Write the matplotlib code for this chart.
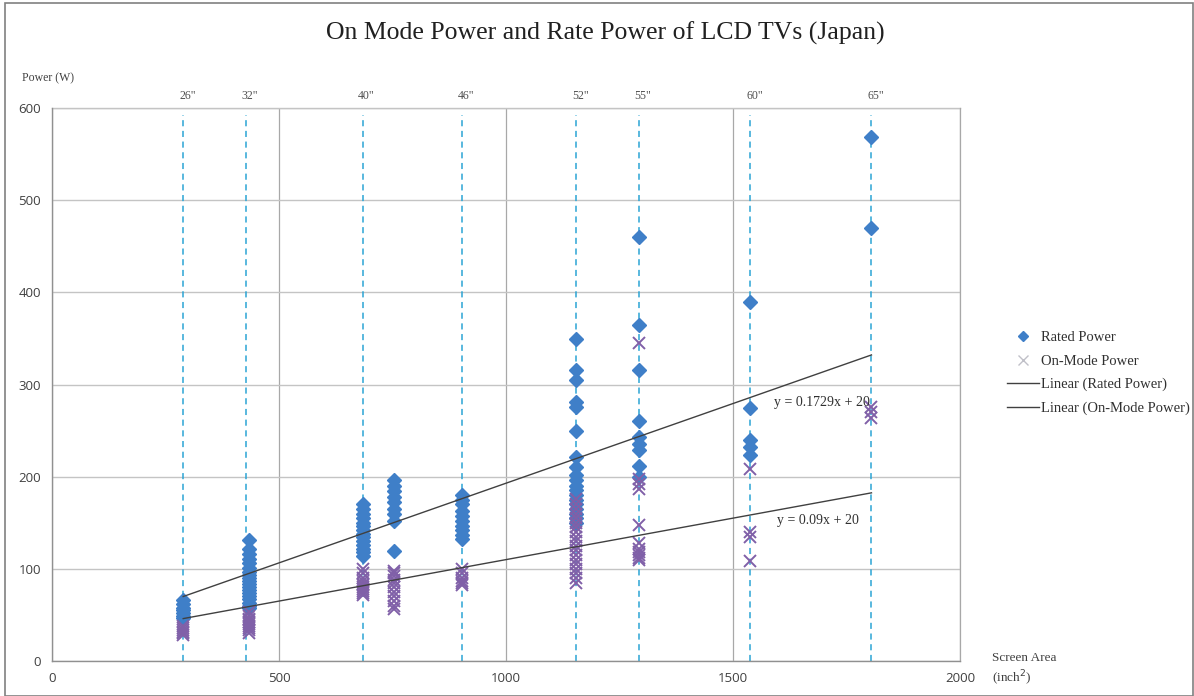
import matplotlib
matplotlib.use("Agg")
import matplotlib.pyplot as plt
import numpy as np
from matplotlib.lines import Line2D
from matplotlib.patches import Rectangle

# ---------------- data ----------------
size_labels = ['26"', '32"', '40"', '46"', '52"', '55"', '60"', '65"']
size_area = [289, 427, 684, 904, 1155, 1292, 1538, 1805]

area_26, area_32, area_40, area_42, area_46 = 289, 434, 684, 754, 904
area_52, area_55, area_60, area_65 = 1155, 1292, 1538, 1805

rated_26 = [66, 62, 58, 55, 52, 49, 47]
rated_32 = [131, 122, 116, 111, 106, 101, 97, 93, 90, 87, 84, 80, 77, 74, 70, 67, 63, 60, 57]
rated_40 = [170, 165, 160, 155, 150, 146, 142, 138, 134, 130, 126, 122, 118, 114]
rated_42 = [196, 190, 184, 178, 172, 165, 160, 152, 119]
rated_46 = [180, 175, 170, 163, 157, 152, 147, 142, 137, 132]
rated_52 = [349, 316, 305, 281, 276, 250, 221, 210, 202, 196, 190, 185, 180, 175, 170, 165, 160, 155, 150]
rated_55 = [460, 365, 316, 260, 243, 235, 229, 212, 200]
rated_60 = [390, 275, 240, 232, 223]
rated_65 = [568, 470]

onmode_26 = [38, 36, 34, 32, 30, 28]
onmode_32 = [53, 49, 46, 44, 42, 40, 38, 36, 34, 30]
onmode_40 = [100, 95, 90, 87, 84, 82, 80, 78, 76, 74, 72]
onmode_42 = [98, 95, 92, 88, 85, 80, 75, 70, 65, 60, 56]
onmode_46 = [100, 95, 90, 87, 85, 83]
onmode_52 = [176, 170, 165, 160, 155, 150, 145, 140, 135, 130, 125, 120, 115, 110, 105, 100, 95, 90, 85]
onmode_55 = [345, 197, 192, 187, 148, 128, 122, 118, 115, 112, 110]
onmode_60 = [208, 140, 135, 108]
onmode_65 = [276, 270, 264]

rated_slope, onmode_slope, fit_intercept = 0.1729, 0.09, 20

# -------------- assemble --------------
groups_area = [area_26, area_32, area_40, area_42, area_46, area_52, area_55, area_60, area_65]
rated_groups = [rated_26, rated_32, rated_40, rated_42, rated_46, rated_52, rated_55, rated_60, rated_65]
onmode_groups = [onmode_26, onmode_32, onmode_40, onmode_42, onmode_46, onmode_52, onmode_55, onmode_60, onmode_65]

rx = np.concatenate([[a] * len(v) for a, v in zip(groups_area, rated_groups)])
ry = np.concatenate(rated_groups)
ox = np.concatenate([[a] * len(v) for a, v in zip(groups_area, onmode_groups)])
oy = np.concatenate(onmode_groups)

SERIF = ['Liberation Serif', 'DejaVu Serif']
SANS = ['Open Sans', 'DejaVu Sans']

blue = '#3f7fc8'
purple = '#8060a8'
cyan = '#2ba4d4'
grid_c = '#c4c4c4'
vgrid_c = '#a8a8a8'
trend_c = '#404040'

fig = plt.figure(figsize=(11.94, 6.96), dpi=100)
fig.patches.append(Rectangle((0.004, 0.0), 0.995, 0.996, transform=fig.transFigure,
                             fill=False, edgecolor='#808080', linewidth=1.2))
ax = fig.add_axes([52 / 1194, 1 - 661 / 696, (960 - 52) / 1194, (661 - 108) / 696])

ax.set_xlim(0, 2000)
ax.set_ylim(0, 600)
ax.set_xticks([0, 500, 1000, 1500, 2000])
ax.set_yticks([0, 100, 200, 300, 400, 500, 600])
for s in ['top', 'right']:
    ax.spines[s].set_visible(False)
for s in ['left', 'bottom']:
    ax.spines[s].set_color('#909090')
    ax.spines[s].set_linewidth(1.0)
ax.tick_params(length=0, pad=8, labelsize=9.5, colors='#404040')
for lab in ax.get_xticklabels() + ax.get_yticklabels():
    lab.set_family(SANS)
ax.grid(True, axis='y', color=grid_c, linewidth=1.0)
ax.grid(True, axis='x', color=vgrid_c, linewidth=0.9)
ax.axhline(600, color=grid_c, linewidth=1.0, clip_on=False)
ax.axvline(2000, color=vgrid_c, linewidth=0.9, clip_on=False)
ax.set_axisbelow(True)

# dashed screen size lines
for a, lab in zip(size_area, size_labels):
    ax.plot([a, a], [0, 592], linestyle=(0, (4, 3)), color=cyan, linewidth=1.1, zorder=1)
    ax.text(a + 9, 613, lab, ha='center', va='center', fontsize=8.5, family=SERIF,
            color='#505050', clip_on=False)

# scatter
ax.plot(rx, ry, linestyle='none', marker='D', markersize=7.5, color=blue, zorder=3)
ax.plot(ox, oy, linestyle='none', marker='x', markersize=8, markeredgewidth=1.4,
        color=purple, zorder=4)

# trend lines
xr = np.array([rx.min(), rx.max()])
ax.plot(xr, rated_slope * xr + fit_intercept, color=trend_c, linewidth=1.0, zorder=5)
xo = np.array([ox.min(), ox.max()])
ax.plot(xo, onmode_slope * xo + fit_intercept, color=trend_c, linewidth=1.0, zorder=5)

ax.text(1590, 280, f'y = {rated_slope}x + {fit_intercept}', fontsize=10, family=SERIF,
        color='#303030', va='center', ha='left', zorder=6)
ax.text(1597, 152, f'y = {onmode_slope}x + {fit_intercept}', fontsize=10, family=SERIF,
        color='#303030', va='center', ha='left', zorder=6)

# titles / labels
fig.text(605 / 1194, 1 - 33 / 696, 'On Mode Power and Rate Power of LCD TVs (Japan)',
         ha='center', va='center', fontsize=18.5, family=SERIF, color='#202020')
fig.text(22 / 1194, 1 - 78 / 696, 'Power (W)', ha='left', va='center', fontsize=8.5,
         family=SERIF, color='#404040')
fig.text(992 / 1194, 1 - 670 / 696, 'Screen Area\n(inch$^2$)', ha='left', va='center',
         fontsize=9.5, family=SERIF, color='#404040', linespacing=1.4)

# legend
handles = [
    Line2D([], [], linestyle='none', marker='D', markersize=5, color=blue),
    Line2D([], [], linestyle='none', marker='x', markersize=7, markeredgewidth=1.0, color='#c0c0c8'),
    Line2D([], [], color=trend_c, linewidth=1.0),
    Line2D([], [], color=trend_c, linewidth=1.0),
]
labels = ['Rated Power', 'On-Mode Power', 'Linear (Rated Power)', 'Linear (On-Mode Power)']
leg = fig.legend(handles, labels, loc='center left', bbox_to_anchor=(994 / 1194, 1 - 373 / 696),
                 frameon=False, prop={'family': SERIF, 'size': 10.5}, handlelength=2.2,
                 handletextpad=0.1, labelspacing=0.7)
for t in leg.get_texts():
    t.set_color('#303030')

fig.savefig('out.png', dpi=100)
